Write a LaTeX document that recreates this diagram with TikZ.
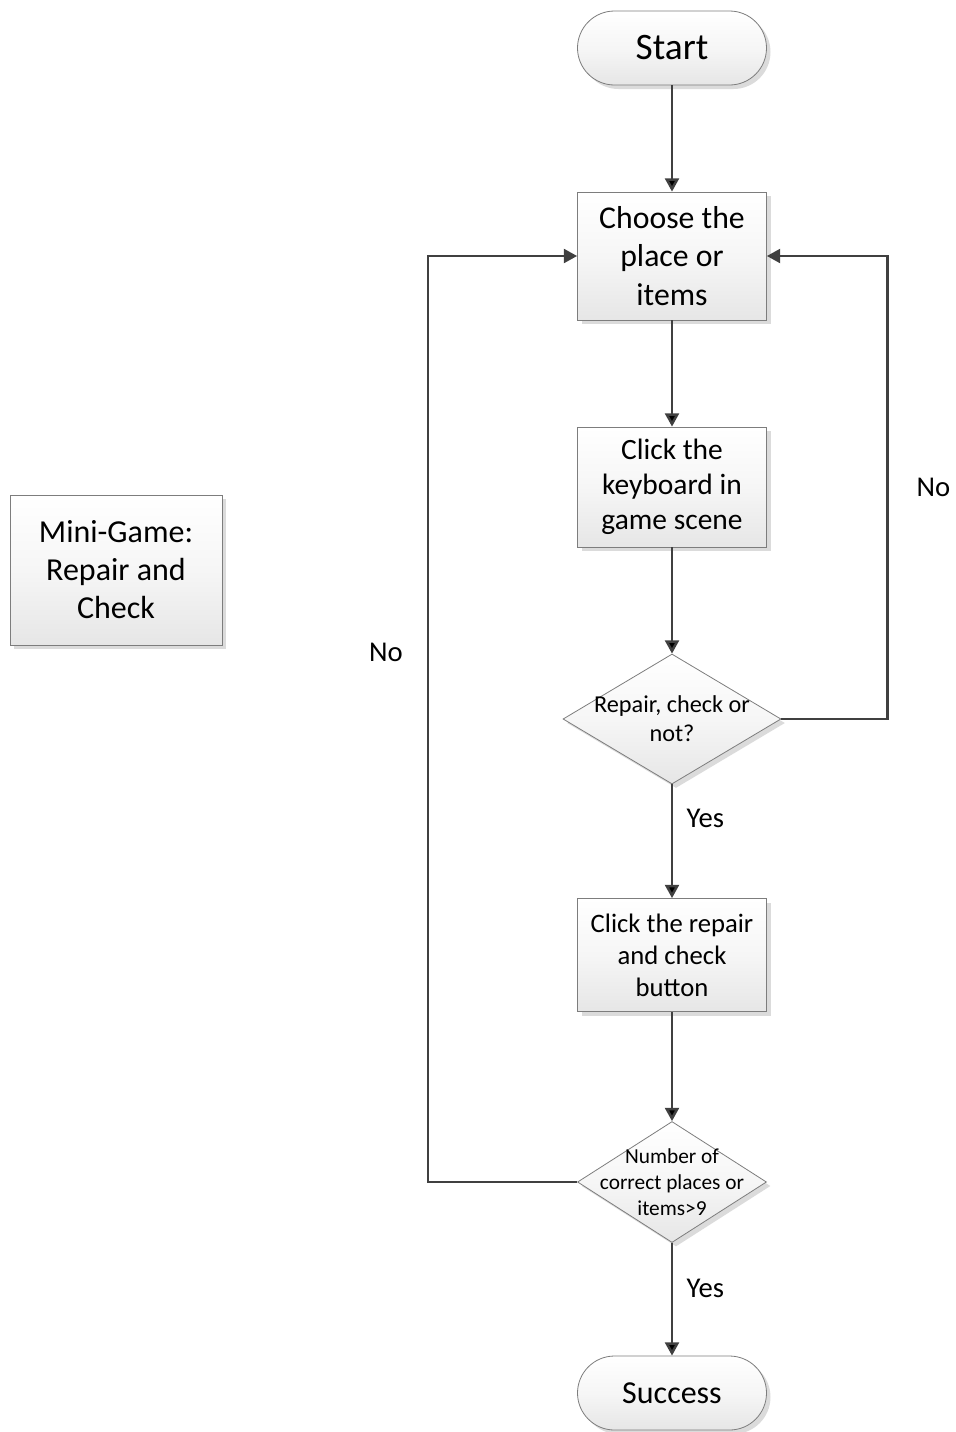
\documentclass[tikz,border=0pt]{standalone}
\usepackage{fontspec}
\setmainfont{Carlito}
\usetikzlibrary{arrows.meta,positioning,shapes,shadows}
\definecolor{colorline}{RGB}{64,64,64}
\definecolor{colorborder}{RGB}{125,125,125}
\definecolor{colorfill}{RGB}{230,230,230}
\definecolor{colormid}{RGB}{246,246,246}
\tikzstyle{boxbase}=[draw=colorborder, line width=0.6pt, top color=white, bottom color=colorfill, middle color=colormid, drop shadow={shadow xshift=3pt, shadow yshift=-3pt, fill=black!14, opacity=1}]
\tikzstyle{terminal}=[boxbase, rectangle, rounded corners=27.75pt, minimum width=141.75pt, minimum height=55.5pt, font=\fontsize{24}{29}\selectfont]
\tikzstyle{process}=[boxbase, rectangle, minimum width=141.75pt, align=center, inner sep=2pt]
\tikzstyle{decision}=[boxbase, diamond, inner sep=0pt]
\tikzstyle{dtext}=[align=center, inner sep=0pt]
\tikzstyle{answer}=[font=\fontsize{21.5}{26}\selectfont, inner sep=0pt]
\tikzstyle{flow}=[draw=colorline, line width=1.9pt, -{Triangle[length=10pt,width=10.5pt]}]

\begin{document}
\begin{tikzpicture}[x=0.75pt, y=-0.75pt]
		\useasboundingbox (0,0) rectangle (956,1432);
		
		\node[terminal, font=\fontsize{28}{33}\selectfont] at (672, 48) (start) {Start};
		
		\node[process, minimum height=96pt, font=\fontsize{23.8}{28.9}\selectfont] at (672, 256) (choose) {Choose the\\place or\\items};
		
		\node[process, minimum height=90pt, font=\fontsize{22.1}{26.2}\selectfont] at (672, 487) (keyboard) {Click the\\keyboard in\\game scene};
		
		\node[decision, minimum width=163.5pt, minimum height=97.5pt, label={[dtext, font=\fontsize{18.2}{21.75}\selectfont]center:Repair, check or\\not?}] at (672, 719) (repair) {};
		
		\node[process, minimum height=84.75pt, font=\fontsize{20}{24}\selectfont] at (672, 955) (button) {Click the repair\\and check\\button};
		
		\node[decision, minimum width=141.75pt, minimum height=90.75pt, label={[dtext, font=\fontsize{16}{19.5}\selectfont]center:Number of\\correct places or\\items>9}] at (672, 1182) (count) {};
		
		\node[terminal] at (672, 1393) (success) {Success};
		
		\node[process, minimum width=159pt, minimum height=112.5pt, font=\fontsize{24}{28.5}\selectfont] at (116, 570) (title) {Mini-Game:\\Repair and\\Check};
		
		\path[flow] (start) edge (choose);
		\path[flow] (choose) edge (keyboard);
		\path[flow] (keyboard) edge (repair);
		\path[flow] (repair) edge node[answer, pos=0.3, right=10pt]{Yes} (button);
		\path[flow] (button) edge (count);
		\path[flow] (count) edge node[answer, pos=0.4, right=10pt]{Yes} (success);
		\draw[flow] (repair.east) -- ++(106, 0) |- node[answer, pos=0.25, right=21pt]{No} (choose.east);
		\draw[flow] (count.west) -- ++(-149, 0) |- node[answer, pos=0.286, left=18pt]{No} (choose.west);
		
		\end{tikzpicture}
\end{document}
